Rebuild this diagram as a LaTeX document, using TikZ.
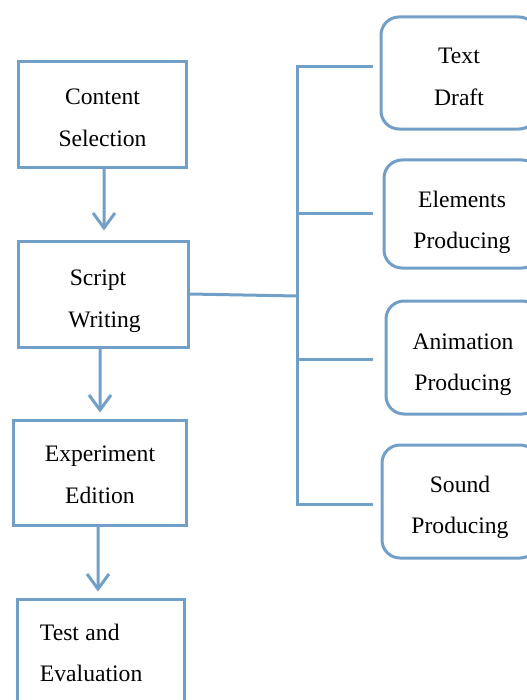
\documentclass[tikz,border=0pt]{standalone}
\usepackage{fontspec}
\setmainfont{Liberation Serif}
\usetikzlibrary{arrows.meta}
\definecolor{sb}{RGB}{114,159,200}
\newcommand\lns[2]{\raisebox{-#1}[17bp][5bp]{#2}}
\begin{document}
\begin{tikzpicture}[x=1bp,y=-1bp,
  box/.style={draw=sb, line width=3bp, rectangle, inner sep=0pt, align=center,
    font=\fontsize{23.7}{42}\selectfont},
  rbox/.style={box, rounded corners=18bp},
  conn/.style={draw=sb, line width=3bp},
  arr/.style={conn, -{Straight Barb[length=15bp,width=22bp]}}]
\useasboundingbox (0,0) rectangle (527,700);
\clip (0,0) rectangle (527,700);
\node[box, minimum width=167bp, minimum height=105bp] (content) at (102.5,114.5)
  {\lns{5bp}{Content}\\\lns{5bp}{Selection}};
\node[box, minimum width=169bp, minimum height=106bp] (script) at (103.5,294)
  {\lns{6.5bp}{Script\hspace*{11bp}}\\\lns{6.5bp}{\hspace*{2bp}Writing}};
\node[box, minimum width=172bp, minimum height=105bp] (exp) at (100,472.5)
  {\lns{4bp}{Experiment}\\\lns{4bp}{Edition}};
\node[box, minimum width=166bp, minimum height=108bp, align=left, text width=122bp, inner xsep=22bp] (test) at (101,653)
  {\lns{2bp}{Test\hspace{6.5bp}and}\\\lns{2bp}{Evaluation}};
\node[rbox, minimum width=156bp, minimum height=112bp] (draft) at (459,73)
  {\lns{5.5bp}{Text}\\\lns{5.5bp}{Draft}};
\node[rbox, minimum width=156bp, minimum height=108bp] (elem) at (462,214)
  {\lns{8bp}{Elements}\\\lns{8bp}{Producing}};
\node[rbox, minimum width=154bp, minimum height=113bp] (anim) at (463,357.5)
  {\lns{6.5bp}{Animation}\\\lns{6.5bp}{Producing}};
\node[rbox, minimum width=156bp, minimum height=113bp] (sound) at (460,501.5)
  {\lns{5.5bp}{Sound}\\\lns{5.5bp}{Producing}};
\draw[arr] ([xshift=1.5bp]content.south) -- ([xshift=0.5bp,yshift=9bp]script.north);
\draw[arr] ([xshift=-3.5bp]script.south) -- ([yshift=6bp]exp.north);
\draw[arr] ([xshift=-2bp]exp.south) -- ([xshift=-3bp,yshift=6bp]test.north);
\coordinate (jt) at (297,67);
\coordinate (jm) at (297,296);
\coordinate (j2) at (297,213);
\coordinate (j3) at (297,359);
\coordinate (jb) at (297,504);
\coordinate (e1) at (373,67);
\coordinate (e2) at (373,213);
\coordinate (e3) at (373,359);
\coordinate (e4) at (373,504);
\draw[conn] (e1) -- (jt) -- (jb) -- (e4);
\draw[conn] (j2) -- (e2);
\draw[conn] (j3) -- (e3);
\draw[conn] (script.east) -- (jm);
\end{tikzpicture}
\end{document}
